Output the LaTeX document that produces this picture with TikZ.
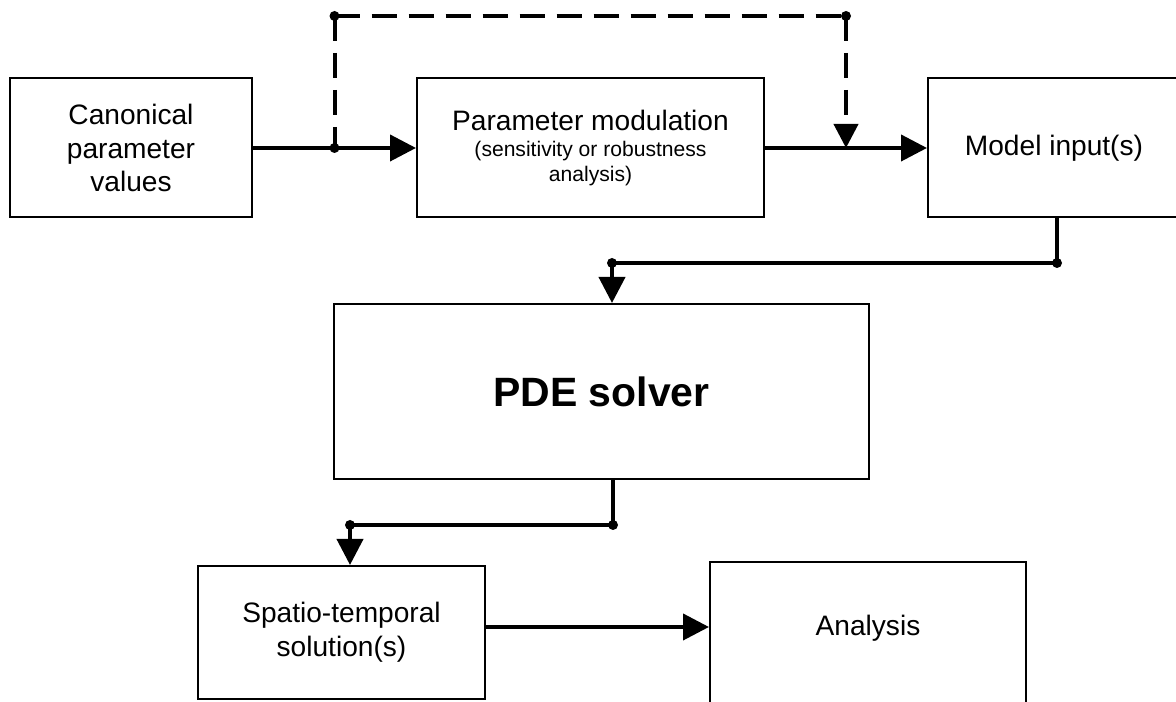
\documentclass[tikz,border=0pt]{standalone}
\usepackage{fontspec}
\setmainfont{Liberation Sans}
\usepackage{tikz}
\usetikzlibrary{arrows.meta,calc}

\tikzset{
	block/.style={draw, line width=0.04cm, inner sep=0pt, align=center, font=\fontsize{16}{19.3}\selectfont},
	flow/.style={line width=0.08cm, -{Triangle[length=0.52cm, width=0.52cm]}},
	wire/.style={line width=0.08cm},
	feed/.style={line width=0.08cm, dash pattern=on 0.5cm off 0.24cm},
}

\begin{document}
\begin{tikzpicture}
		%%%%% START %%%%%
		\useasboundingbox (0, 0) rectangle (23.52, 14.04);
		
		\node[block, minimum width=4.84cm, minimum height=2.78cm] (canon) at (2.62, 11.08) {Canonical\\parameter\\values};
		\node[block, minimum width=6.94cm, minimum height=2.78cm] (modul) at (11.81, 11.08) {Parameter modulation\\[-4.1pt]{\fontsize{12}{14.2}\selectfont (sensitivity or robustness}\\[-5.1pt]{\fontsize{12}{14.2}\selectfont analysis)}};
		\node[block, minimum width=5.04cm, minimum height=2.78cm] (model) at (21.08, 11.08) {Model input(s)};
		
		\node[block, minimum width=10.70cm, minimum height=3.50cm, font=\fontsize{23.3}{28}\selectfont\bfseries] (pde) at (12.03, 6.21) {PDE solver};
		
		\node[block, minimum width=5.74cm, minimum height=2.66cm] (sol) at (6.83, 1.39) {Spatio-temporal\\solution(s)};
		\node[block, minimum width=6.32cm, text height=1.48cm, text depth=1.72cm, anchor=north] (anal) at (17.36, 2.82) {Analysis};
		
		% top row, with the dashed bypass
		\coordinate (fork) at ($(canon.east)!0.5!(modul.west)$);
		\coordinate (merge) at ($(modul.east)!0.5!(model.west)$);
		\coordinate (upl) at ($(fork)+(0, 2.64)$);
		\coordinate (upr) at ($(merge)+(0, 2.64)$);
		
		\draw[flow] (canon.east) -- (modul.west);
		\draw[flow] (modul.east) -- (model.west);
		\draw[feed] (upl) -- (fork);
		\draw[feed] (upl) -- (upr);
		\draw[feed, -{Triangle[length=0.48cm, width=0.48cm]}] (upr) -- (merge);
		\fill (fork) circle (0.1);
		\fill (upl) circle (0.1);
		\fill (upr) circle (0.1);
		
		% input down to the solver
		\coordinate (mR) at (21.14, 8.78);
		\coordinate (mL) at (12.24, 8.78);
		\draw[wire] (model.south -| mR) -- (mR) -- (mL);
		\draw[flow] (mL) -- (mL |- pde.north);
		\fill (mR) circle (0.1);
		\fill (mL) circle (0.1);
		
		% solver down to the solutions
		\coordinate (sR) at (12.26, 3.54);
		\coordinate (sL) at (7.00, 3.54);
		\draw[wire] (pde.south -| sR) -- (sR) -- (sL);
		\draw[flow] (sL) -- (sL |- sol.north);
		\fill (sR) circle (0.1);
		\fill (sL) circle (0.1);
		
		\draw[flow] ([yshift=0.11cm]sol.east) -- ([yshift=0.11cm]sol.east -| anal.west);
		
		%%%%% END %%%%%
\end{tikzpicture}
\end{document}
